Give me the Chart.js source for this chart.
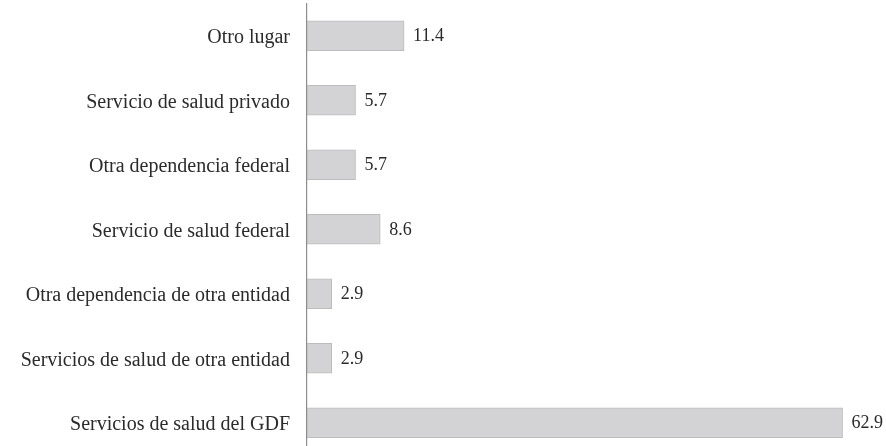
<!DOCTYPE html>
<html>
<head>
<meta charset="utf-8">
<script src="https://cdn.jsdelivr.net/npm/chart.js@4/dist/chart.umd.min.js"></script>
<style>
  html, body { margin: 0; padding: 0; background: #ffffff; overflow: hidden; }
  canvas { display: block; }
</style>
</head>
<body>
<canvas id="c" width="886" height="458"></canvas>
<script>
const categories = [
  "Otro lugar",
  "Servicio de salud privado",
  "Otra dependencia federal",
  "Servicio de salud federal",
  "Otra dependencia de otra entidad",
  "Servicios de salud de otra entidad",
  "Servicios de salud del GDF"
];
const values = [11.4, 5.7, 5.7, 8.6, 2.9, 2.9, 62.9];
const valueLabels = ["11.4", "5.7", "5.7", "8.6", "2.9", "2.9", "62.9"];

const valueLabelPlugin = {
  id: 'valueLabels',
  afterDatasetsDraw(chart) {
    const ctx = chart.ctx;
    const meta = chart.getDatasetMeta(0);
    ctx.save();
    ctx.font = '18px "Liberation Serif", "DejaVu Serif", serif';
    ctx.fillStyle = '#2b2b2b';
    ctx.textAlign = 'left';
    ctx.textBaseline = 'middle';
    meta.data.forEach((bar, i) => {
      ctx.fillText(valueLabels[i], bar.x + 9, bar.y + 1);
    });
    ctx.restore();
  }
};

new Chart(document.getElementById('c'), {
  type: 'bar',
  data: {
    labels: categories,
    datasets: [{
      data: values,
      backgroundColor: '#d3d3d5',
      borderColor: '#bcbcbe',
      borderWidth: 1,
      borderSkipped: false,
      barThickness: 30
    }]
  },
  options: {
    indexAxis: 'y',
    responsive: false,
    animation: false,
    layout: { autoPadding: false, padding: { top: 3.5, bottom: 0, left: 0, right: 0 } },
    plugins: {
      legend: { display: false },
      tooltip: { enabled: false }
    },
    scales: {
      x: {
        display: false,
        min: 0,
        max: 68
      },
      y: {
        afterFit(scale) { scale.width = 307; },
        grid: { display: true, drawOnChartArea: false, drawTicks: true, tickLength: 17, color: 'rgba(0,0,0,0)' },
        border: { display: true, color: '#8c8c8c', width: 1.2 },
        ticks: {
          padding: 0,
          labelOffset: 2,
          color: '#2b2b2b',
          font: { family: '"Liberation Serif", "DejaVu Serif", serif', size: 20, lineHeight: 0.3 }
        }
      }
    }
  },
  plugins: [valueLabelPlugin]
});
</script>
</body>
</html>
